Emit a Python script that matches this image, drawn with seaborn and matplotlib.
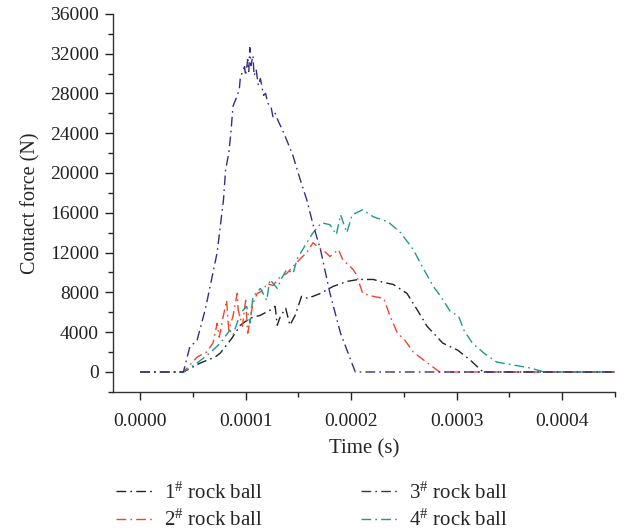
import numpy as np
import pandas as pd
import seaborn as sns
import matplotlib.pyplot as plt
from matplotlib.ticker import MultipleLocator, FormatStrFormatter

# Thoi gian (micro giay) va luc tiep xuc (N) doc tu hinh
t1 = [0, 41, 57, 71, 76, 87, 95, 104, 114, 123, 128, 130, 133, 138, 142, 147, 153, 159,
      171, 183, 196, 207, 221, 231, 240, 253, 263, 272, 287, 301, 313, 325, 450]
f1 = [0, 0, 900, 1500, 1900, 3400, 4700, 5400, 5700, 6200, 6600, 4700, 5600, 6400, 4700, 5700, 7600, 7400,
      7900, 8600, 9100, 9300, 9300, 9000, 8800, 7900, 6200, 4600, 2900, 2200, 1200, 0, 0]

t2 = [0, 41, 48, 54, 63, 69, 73, 75, 79, 82, 84, 88, 92, 93, 97, 100, 102, 107, 111, 117,
      120, 126, 133, 139, 145, 152, 158, 164, 169, 173, 180, 188, 192, 202, 205, 211, 221,
      231, 237, 244, 251, 259, 275, 284, 450]
f2 = [0, 0, 800, 1500, 2000, 2900, 4900, 3500, 5700, 7200, 4200, 5600, 7900, 6200, 4600, 7200, 3900, 6900, 7900, 8200,
      8900, 8700, 9600, 9900, 10600, 11400, 12000, 13000, 12500, 12300, 11600, 12300, 11300, 10300, 9800, 7900, 7600,
      7400, 5600, 3900, 3200, 2000, 700, 0, 0]

t3 = [0, 41, 47, 54, 62, 73, 79, 81, 84, 86, 88, 91, 94, 95, 99, 100, 102, 103, 104, 105,
      107, 108, 110, 112, 114, 117, 119, 121, 124, 126, 128, 131, 135, 139, 145, 151, 158,
      164, 171, 180, 190, 204, 450]
f3 = [0, 0, 2500, 3200, 6400, 12000, 17300, 20300, 22000, 24000, 26700, 27500, 28400, 29600, 30700, 29800, 31400, 30200, 32600, 30800,
      31800, 29800, 30400, 28800, 29500, 27800, 28000, 27000, 26700, 25600, 26000, 25200, 24300, 23300, 21700, 19600, 17300,
      14800, 12300, 7900, 3900, 0, 0]

t4 = [0, 41, 54, 66, 76, 85, 88, 95, 101, 104, 107, 114, 120, 123, 130, 134, 139, 145, 149,
      158, 164, 172, 180, 186, 190, 196, 201, 211, 221, 235, 247, 259, 269, 278, 285, 294,
      302, 307, 315, 326, 338, 354, 370, 383, 450]
f4 = [0, 0, 900, 1900, 2900, 4200, 3700, 5900, 6600, 4900, 7600, 8400, 7200, 9300, 8400, 9400, 10300, 9900, 11400,
      13000, 14000, 15000, 14800, 13800, 15800, 14000, 15800, 16300, 15600, 15100, 14000, 12300, 10300, 8600, 7600, 6100,
      5600, 4200, 2900, 1900, 1000, 700, 400, 0, 0]

labels = [r"1$^{\#}$ rock ball", r"2$^{\#}$ rock ball", r"3$^{\#}$ rock ball", r"4$^{\#}$ rock ball"]
colors = ["#222222", "#f0462a", "#3a2a8c", "#1f9890"]

sns.set_theme(style="ticks")
plt.rcParams['font.family'] = ['Liberation Serif', 'DejaVu Serif']
plt.rcParams['mathtext.fontset'] = 'custom'
plt.rcParams['mathtext.rm'] = 'Liberation Serif'
plt.rcParams['mathtext.it'] = 'Liberation Serif'

fig = plt.figure(figsize=(6.37, 5.31), dpi=100)
ax = fig.add_axes([0.177, 0.262, 0.788, 0.712])

series = [(t1, f1), (t2, f2), (t3, f3), (t4, f4)]
zorders = [2, 3, 5, 4]
for (t, f), lab, c, z in zip(series, labels, colors, zorders):
    d = pd.DataFrame({"time": np.array(t) * 1e-6, "force": f})
    sns.lineplot(data=d, x="time", y="force", ax=ax, color=c, label=lab, sort=False,
                 linewidth=1.0, linestyle=(0, (7, 3, 1.2, 3)), zorder=z)

ax.set_xlim(-0.000026, 0.00045)
ax.set_ylim(-2000, 36000)
ax.xaxis.set_major_locator(MultipleLocator(0.0001))
ax.xaxis.set_minor_locator(MultipleLocator(0.00005))
ax.xaxis.set_major_formatter(FormatStrFormatter('%.4f'))
ax.yaxis.set_major_locator(MultipleLocator(4000))
ax.yaxis.set_minor_locator(MultipleLocator(2000))
ax.tick_params(axis='both', which='major', direction='out', length=6, width=1, labelsize=14, colors='#222222')
ax.tick_params(axis='x', which='major', pad=9)
ax.tick_params(axis='y', which='major', pad=4)
ax.tick_params(axis='both', which='minor', direction='out', length=3.5, width=1, colors='#222222')
for s in ['top', 'right']:
    ax.spines[s].set_visible(False)
for s in ['left', 'bottom']:
    ax.spines[s].set_color('#333333')
    ax.spines[s].set_linewidth(1)

ax.set_xlabel("Time (s)", fontsize=15, labelpad=7)
ax.set_ylabel("Contact force (N)", fontsize=14.5, labelpad=7)

ax.legend(loc='upper left', bbox_to_anchor=(-0.03, -0.19), ncol=2, frameon=False, fontsize=15,
          handlelength=1.7, handletextpad=0.6, columnspacing=4.7, labelspacing=0.3)

plt.savefig("out.png", dpi=100)
plt.close()
